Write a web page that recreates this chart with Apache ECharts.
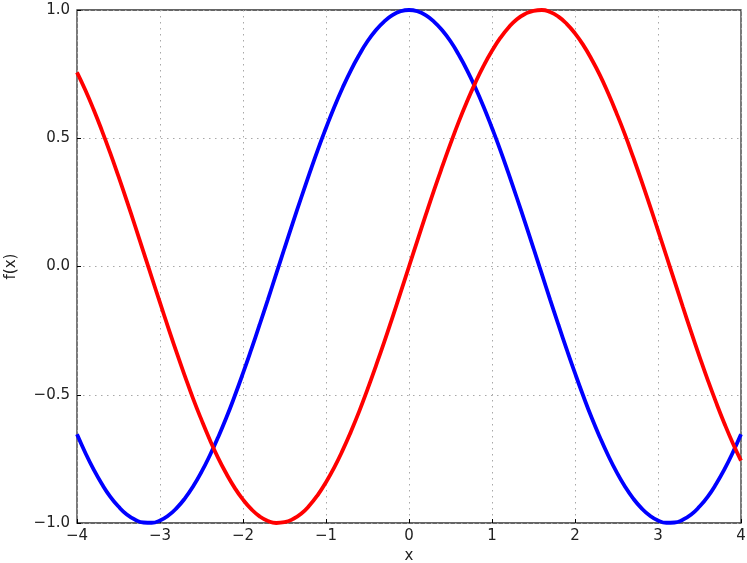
<!DOCTYPE html>
<html>
<head>
<meta charset="utf-8">
<script src="https://cdn.jsdelivr.net/npm/echarts@6/dist/echarts.min.js"></script>
<style>html,body{margin:0;padding:0;background:#fff;}#c{width:747px;height:563px;}</style>
</head>
<body>
<div id="c"></div>
<script>
const xs = [-4.0,-3.9,-3.8,-3.7,-3.6,-3.5,-3.4,-3.3,-3.2,-3.1,-3.0,-2.9,-2.8,-2.7,-2.6,-2.5,-2.4,-2.3,-2.2,-2.1,-2.0,-1.9,-1.8,-1.7,-1.6,-1.5,-1.4,-1.3,-1.2,-1.1,-1.0,-0.9,-0.8,-0.7,-0.6,-0.5,-0.4,-0.3,-0.2,-0.1,0.0,0.1,0.2,0.3,0.4,0.5,0.6,0.7,0.8,0.9,1.0,1.1,1.2,1.3,1.4,1.5,1.6,1.7,1.8,1.9,2.0,2.1,2.2,2.3,2.4,2.5,2.6,2.7,2.8,2.9,3.0,3.1,3.2,3.3,3.4,3.5,3.6,3.7,3.8,3.9,4.0];
const blueValues = [-0.654,-0.726,-0.791,-0.848,-0.897,-0.936,-0.967,-0.987,-0.998,-0.999,-0.990,-0.971,-0.942,-0.904,-0.857,-0.801,-0.737,-0.666,-0.589,-0.505,-0.416,-0.323,-0.227,-0.129,-0.029,0.071,0.170,0.267,0.362,0.454,0.540,0.622,0.697,0.765,0.825,0.878,0.921,0.955,0.980,0.995,1.000,0.995,0.980,0.955,0.921,0.878,0.825,0.765,0.697,0.622,0.540,0.454,0.362,0.267,0.170,0.071,-0.029,-0.129,-0.227,-0.323,-0.416,-0.505,-0.589,-0.666,-0.737,-0.801,-0.857,-0.904,-0.942,-0.971,-0.990,-0.999,-0.998,-0.987,-0.967,-0.936,-0.897,-0.848,-0.791,-0.726,-0.654];
const redValues = [0.757,0.688,0.612,0.530,0.443,0.351,0.256,0.158,0.058,-0.042,-0.141,-0.239,-0.335,-0.427,-0.516,-0.598,-0.675,-0.746,-0.808,-0.863,-0.909,-0.946,-0.974,-0.992,-1.000,-0.997,-0.985,-0.964,-0.932,-0.891,-0.841,-0.783,-0.717,-0.644,-0.565,-0.479,-0.389,-0.296,-0.199,-0.100,0.000,0.100,0.199,0.296,0.389,0.479,0.565,0.644,0.717,0.783,0.841,0.891,0.932,0.964,0.985,0.997,1.000,0.992,0.974,0.946,0.909,0.863,0.808,0.746,0.675,0.598,0.516,0.427,0.335,0.239,0.141,0.042,-0.058,-0.158,-0.256,-0.351,-0.443,-0.530,-0.612,-0.688,-0.757];
const xTicks = [-4,-3,-2,-1,0,1,2,3,4];
const yTicks = [-1.0,-0.5,0.0,0.5,1.0];
const xLabel = 'x';
const yLabel = 'f(x)';

const fmtMinus = s => s.replace('-', '\u2212');
const chart = echarts.init(document.getElementById('c'), null, {renderer:'canvas'});
const font = 'DejaVu Sans';
const pair = arr => xs.map((x,i)=>[x, arr[i]]);
const gridLine = {show:true, lineStyle:{color:'#a8a8a8', type:[1.5,4.5], width:1}};
chart.setOption({
  animation:false,
  backgroundColor:'#fff',
  grid:{left:77, right:6, top:10, bottom:40, show:true, borderColor:'#333', borderWidth:1.3, backgroundColor:'transparent', containLabel:false, outerBoundsMode:'none'},
  xAxis:{type:'value', min:xTicks[0], max:xTicks[xTicks.length-1], interval:1,
    name:xLabel, nameLocation:'middle', nameGap:22,
    nameTextStyle:{fontFamily:font, fontSize:15, color:'#222'},
    axisLine:{show:false, onZero:false}, axisTick:{show:true, inside:true, length:4, lineStyle:{color:'#000'}},
    axisLabel:{fontFamily:font, fontSize:15, color:'#222', margin:6, formatter:v=>fmtMinus(String(v))},
    splitLine:gridLine},
  yAxis:{type:'value', min:yTicks[0], max:yTicks[yTicks.length-1], interval:0.5,
    name:yLabel, nameLocation:'middle', nameGap:58, nameRotate:90,
    nameTextStyle:{fontFamily:font, fontSize:15, color:'#222'},
    axisLine:{show:false, onZero:false}, axisTick:{show:true, inside:true, length:4, lineStyle:{color:'#000'}},
    axisLabel:{fontFamily:font, fontSize:15, color:'#222', margin:7, formatter:v=>fmtMinus(v.toFixed(1))},
    splitLine:gridLine},
  series:[
    {type:'line', data:pair(blueValues), smooth:true, showSymbol:false, lineStyle:{color:'#0000ff', width:3.8}, itemStyle:{color:'#0000ff'}, clip:true},
    {type:'line', data:pair(redValues), smooth:true, showSymbol:false, lineStyle:{color:'#ff0000', width:3.8}, itemStyle:{color:'#ff0000'}, clip:true}
  ]
});
</script>
</body>
</html>
